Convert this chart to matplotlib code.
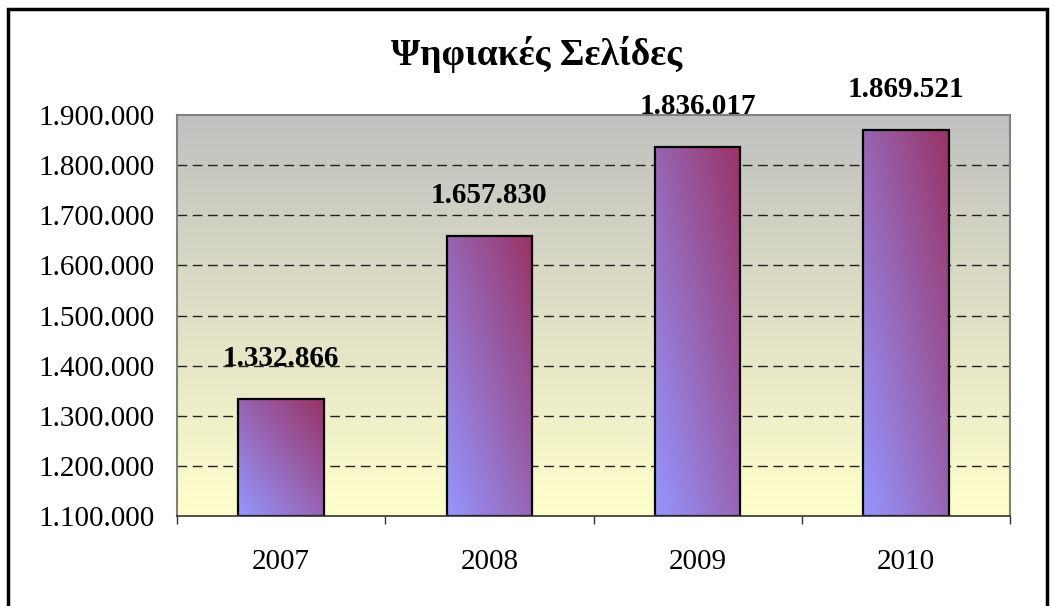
import matplotlib.pyplot as plt
import numpy as np
from matplotlib.patches import Rectangle
from matplotlib.colors import LinearSegmentedColormap

plt.rcParams['font.family'] = ['Liberation Serif', 'DejaVu Serif']

# data
years = ['2007', '2008', '2009', '2010']
pages = [1332866, 1657830, 1836017, 1869521]
y_min = 1100000
y_max = 1900000
y_step = 100000


def fmt(v):
    return f'{v:,.0f}'.replace(',', '.')


fig = plt.figure(figsize=(10.55, 6.06), dpi=100)
ax = fig.add_axes([0.1678, 0.1485, 0.7896, 0.6617])

# background gradient (gray top -> light yellow bottom)
bg = LinearSegmentedColormap.from_list('bg', ['#FFFFCC', '#C0C0C0'])
grad = np.linspace(0, 1, 256).reshape(-1, 1)
ax.imshow(grad, cmap=bg, origin='lower', aspect='auto', extent=(0, 1, 0, 1),
          transform=ax.transAxes, zorder=0)

x = np.arange(len(years))
heights = [v - y_min for v in pages]
bars = ax.bar(x, heights, bottom=y_min, width=0.41, facecolor='none',
              edgecolor='black', linewidth=1.6, zorder=3)

# diagonal gradient inside each bar
barcm = LinearSegmentedColormap.from_list('bar', ['#9696FF', '#993366'])
u, v = np.meshgrid(np.linspace(0, 1, 100), np.linspace(0, 1, 100))
diag = (u + v) / 2
for b in bars:
    x0, y0 = b.get_x(), b.get_y()
    im = ax.imshow(diag, cmap=barcm, origin='lower', aspect='auto',
                   extent=(x0, x0 + b.get_width(), y0, y0 + b.get_height()),
                   zorder=2)
    im.set_clip_path(b)

for xi, val in zip(x, pages):
    ax.annotate(fmt(val), (xi, val), xytext=(0, 24), textcoords='offset points',
                ha='center', va='baseline', fontsize=21, fontweight='bold')

ax.set_xlim(-0.5, len(years) - 0.5)
ax.set_ylim(y_min, y_max)
ax.set_yticks(np.arange(y_min, y_max + 1, y_step))
ax.set_yticklabels([fmt(t) for t in np.arange(y_min, y_max + 1, y_step)], fontsize=21)
ax.set_xticks(x)
ax.set_xticklabels(years, fontsize=21)
ax.set_xticks(np.arange(-0.5, len(years)), minor=True)
ax.tick_params(axis='x', which='major', length=0, pad=24)
ax.tick_params(axis='x', which='minor', length=6, width=1, color='#333333', direction='out')
ax.tick_params(axis='y', length=0, pad=16)

for gy in np.arange(y_min + y_step, y_max, y_step):
    ax.axhline(gy, color='#222222', linewidth=1, linestyle=(0, (7, 4)), zorder=1)

for s in ['left', 'top', 'right']:
    ax.spines[s].set_color('#808080')
    ax.spines[s].set_linewidth(1.5)
ax.spines['bottom'].set_color('#333333')
ax.spines['bottom'].set_linewidth(1.2)
for s in ax.spines.values():
    s.set_zorder(4)

fig.text(0.509, 0.91, 'Ψηφιακές Σελίδες', ha='center', va='center',
         fontsize=27, fontweight='bold')

# outer chart border
fig.patches.append(Rectangle((0.0076, -0.05), 0.985, 1.035, transform=fig.transFigure,
                             fill=False, edgecolor='black', linewidth=2.5))

fig.savefig('out.png', dpi=100)
